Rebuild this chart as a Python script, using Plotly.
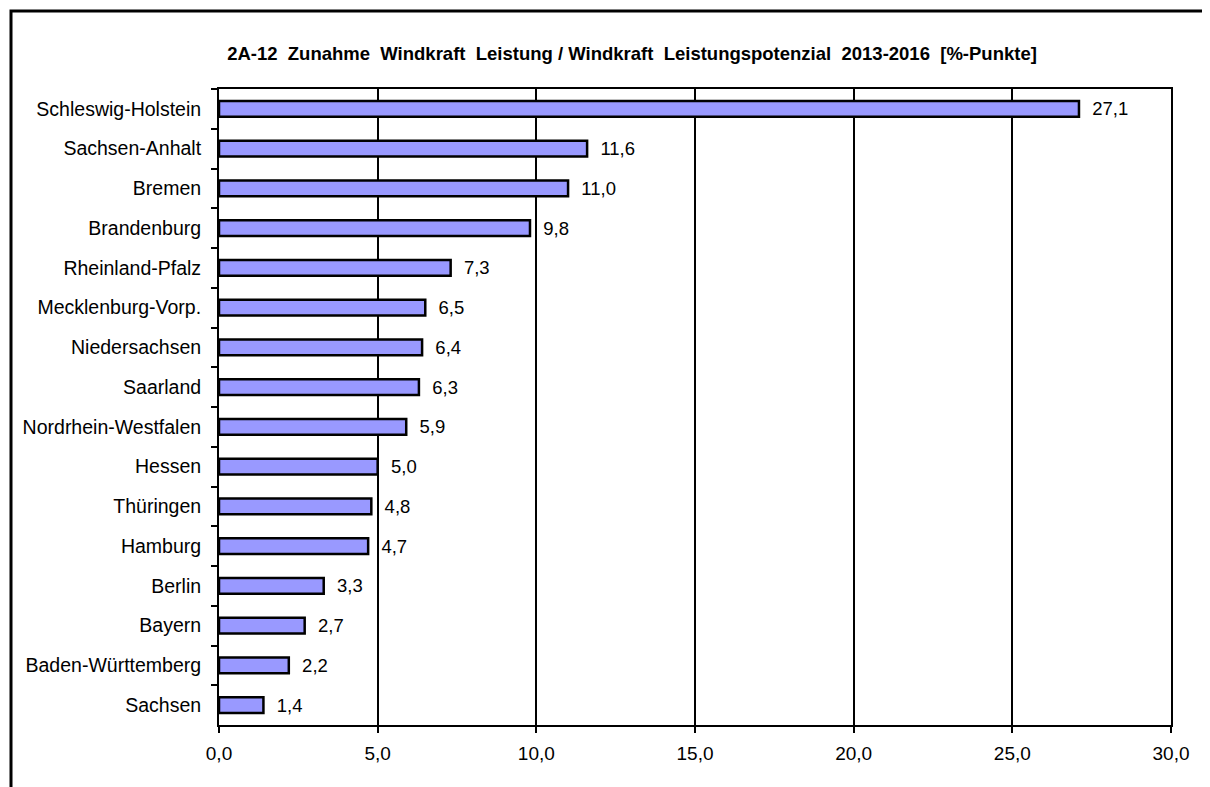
import plotly.graph_objects as go

categories = ["Schleswig-Holstein", "Sachsen-Anhalt", "Bremen", "Brandenburg", "Rheinland-Pfalz",
              "Mecklenburg-Vorp.", "Niedersachsen", "Saarland", "Nordrhein-Westfalen", "Hessen",
              "Thüringen", "Hamburg", "Berlin", "Bayern", "Baden-Württemberg", "Sachsen"]
values = [27.1, 11.6, 11.0, 9.8, 7.3, 6.5, 6.4, 6.3, 5.9, 5.0, 4.8, 4.7, 3.3, 2.7, 2.2, 1.4]
x_ticks = [0, 5, 10, 15, 20, 25, 30]
title = "2A-12  Zunahme  Windkraft  Leistung / Windkraft  Leistungspotenzial  2013-2016  [%-Punkte]"

FONT = "Liberation Sans, Arial, sans-serif"
OFF = 8  # page body margin
W, H = 1210 - OFF, 787 - OFF
L, R, T, B = 219 - OFF, 1171 - OFF, 89 - OFF, 725 - OFF

fig = go.Figure(go.Bar(
    x=values, y=categories, orientation="h",
    marker=dict(color="#9999FF", line=dict(color="black", width=2.5)),
    texttemplate="\u00a0\u00a0%{x:.1f}", textposition="outside",
    constraintext="none",
    textfont=dict(family=FONT, size=18.5, color="black"),
    cliponaxis=False,
))

fig.update_layout(
    width=W, height=H,
    margin=dict(l=L, r=W - R, t=T, b=H - B, pad=0),
    paper_bgcolor="white", plot_bgcolor="white",
    separators=",.",
    bargap=0.6,
    showlegend=False,
    font=dict(family=FONT, size=18.5, color="black"),
    title=dict(text="<b>" + title + "</b>", x=(632 - OFF - L) / (R - L), xref="paper", xanchor="center",
               y=1 - (54 - OFF) / H, yanchor="middle", font=dict(family=FONT, size=18.5, color="black")),
    xaxis=dict(range=[0, 30], tickvals=x_ticks, tickformat=".1f",
               showgrid=True, gridcolor="black", gridwidth=2,
               showline=True, linecolor="black", linewidth=2, mirror=True,
               ticks="outside", ticklen=6, tickwidth=2, tickcolor="black",
               tickfont=dict(family=FONT, size=19, color="black"),
               ticklabelstandoff=4, zeroline=False, fixedrange=True),
    yaxis=dict(autorange="reversed", type="category", tickson="boundaries",
               showgrid=False,
               showline=True, linecolor="black", linewidth=2, mirror=True,
               ticks="outside", ticklen=6, tickwidth=2, tickcolor="black",
               tickfont=dict(family=FONT, size=19.5, color="black"),
               ticklabelstandoff=12, fixedrange=True),
    shapes=[dict(type="rect", xref="paper", yref="paper",
                 x0=(11 - OFF - L) / (R - L), x1=1.2, y0=-0.3, y1=(B - (11 - OFF)) / (B - T),
                 line=dict(color="black", width=3), fillcolor="rgba(0,0,0,0)", layer="below")],
)

fig.write_html("out.html")
